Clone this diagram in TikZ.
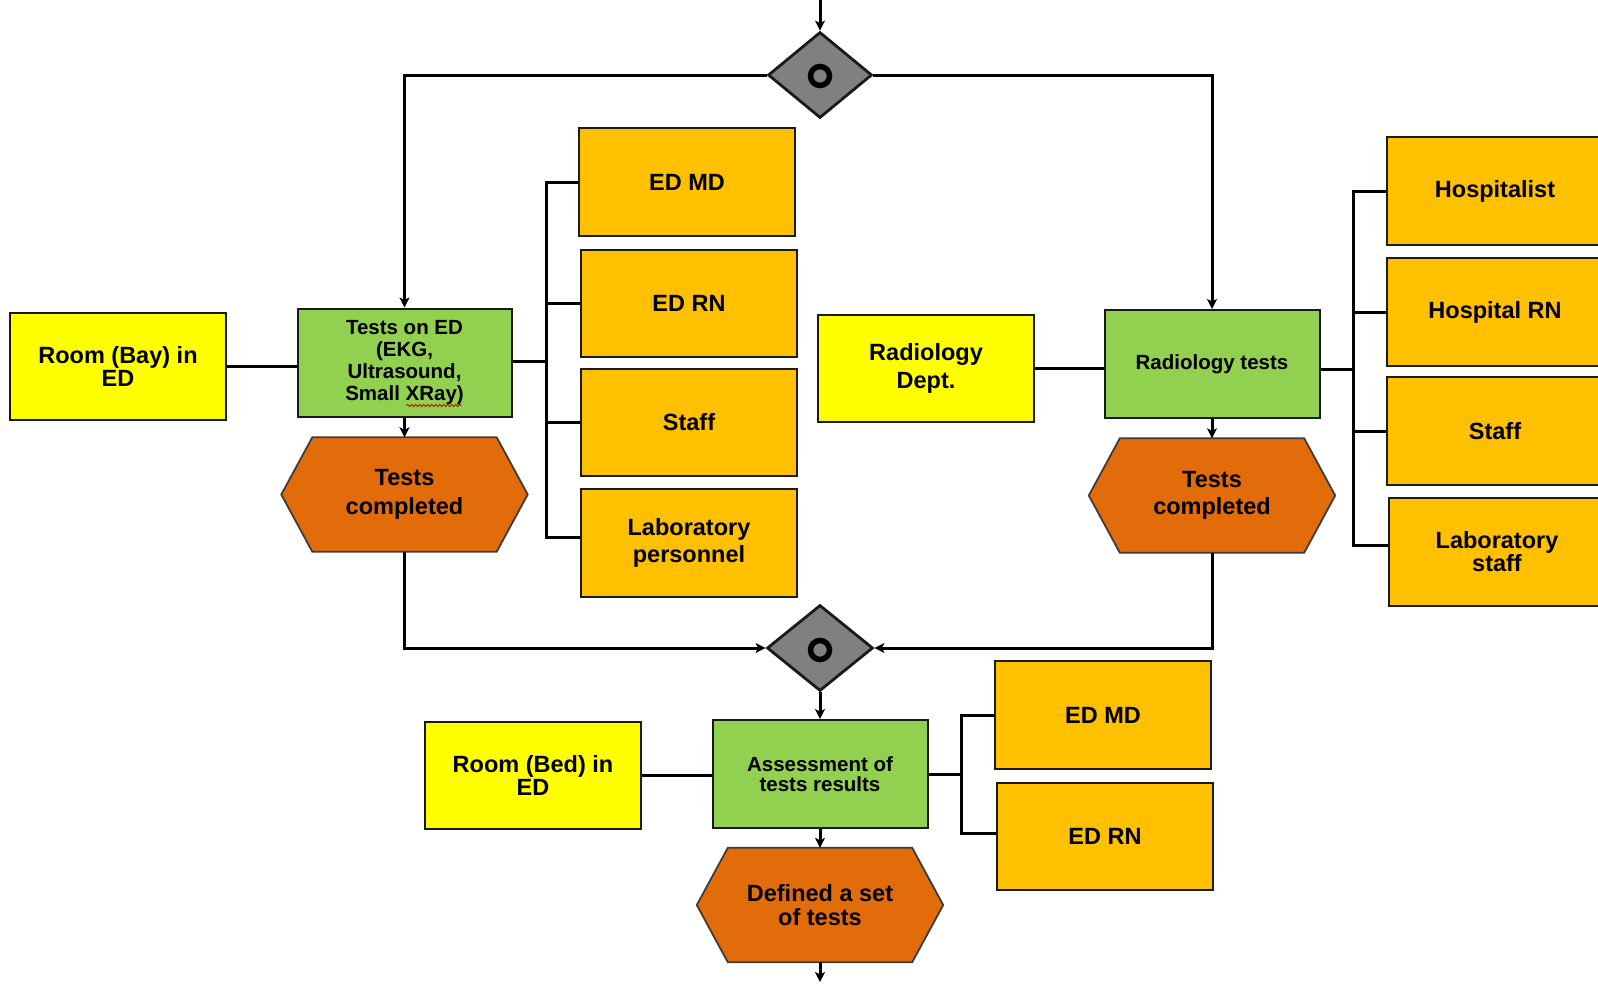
\documentclass[tikz,border=0pt]{standalone}
\usepackage{fontspec}
\setmainfont{Liberation Sans}
\usetikzlibrary{arrows.meta,shapes.geometric,calc,backgrounds,decorations.pathmorphing}

\definecolor{placeyellow}{HTML}{FFFF00}
\definecolor{roleorange}{HTML}{FFC000}
\definecolor{taskgreen}{HTML}{92D050}
\definecolor{eventorange}{HTML}{E36C0A}
\definecolor{gategray}{HTML}{808080}
\definecolor{edgedark}{HTML}{1A1A1A}

\newcommand\hexoutline[2]{%
  \begin{scope}[on background layer]
    \draw[hexline] (#1.west) -- ($(#1.north west)+(#2,0)$) -- ($(#1.north east)+(-#2,0)$)
      -- (#1.east) -- ($(#1.south east)+(-#2,0)$) -- ($(#1.south west)+(#2,0)$) -- cycle;
  \end{scope}}

\tikzset{
  boxbase/.style={rectangle, draw=edgedark, line width=2pt, inner sep=0pt, align=center,
    minimum width=216, minimum height=107},
  bigtext/.style={font=\bfseries\fontsize{23.5}{#1}\selectfont},
  bigtext/.default=24,
  smalltext/.style={font=\bfseries\fontsize{20.5}{#1}\selectfont},
  smalltext/.default=22,
  placebox/.style={boxbase, fill=placeyellow},
  rolebox/.style={boxbase, fill=roleorange},
  taskbox/.style={boxbase, fill=taskgreen, minimum width=214, minimum height=108},
  hexbox/.style={rectangle, inner sep=0pt, align=center, minimum width=246, minimum height=114},
  hexline/.style={draw=edgedark!85, line width=1.8pt, fill=eventorange, line join=miter},
  gate/.style={diamond, draw=edgedark, line width=2.8pt, fill=gategray, inner sep=0pt,
    minimum width=104, minimum height=86},
  gatering/.style={circle, draw=black, line width=5.5pt, minimum size=19, inner sep=0pt},
  link/.style={draw=black, line width=3pt},
  flow/.style={link, -{Stealth[length=10pt,width=10pt,inset=2.5pt]}},
}

\begin{document}
\begin{tikzpicture}[x=1pt, y=-1pt]
\useasboundingbox (0,0) rectangle (1598,985);

% gateways
\node[gate] (d1) at (820,75) {};
\node[gatering] (d1r) at (820,76) {};
\node[gate, minimum width=106] (d2) at (820,648) {};
\node[gatering] (d2r) at (820,650) {};

% emergency department branch
\node[placebox, bigtext=23.5] (room1) at (118,366.5) {Room (Bay) in\\ED};
\node[taskbox, smalltext] (t1) at (404.5,362.5) {Tests on ED\\(EKG,\\Ultrasound,\\Small XRay)};
\node[hexbox, bigtext=28.5] (h1) at (404.5,494.5) {Tests\\completed};
\hexoutline{h1}{31}
\node[rolebox, bigtext, minimum height=108] (edmd1) at (687,182) {ED MD};
\node[rolebox, bigtext] (edrn1) at (689,303.5) {ED RN};
\node[rolebox, bigtext] (staff1) at (689,422.5) {Staff};
\node[rolebox, bigtext=27, minimum height=108] (lab1) at (689,543) {Laboratory\\personnel};

% radiology branch
\node[placebox, bigtext=27.5] (rdept) at (926,368.5) {Radiology\\Dept.};
\node[taskbox, smalltext, minimum width=215] (r1) at (1212,364) {Radiology tests};
\node[hexbox, bigtext=27] (h2) at (1212,495.5) {Tests\\completed};
\hexoutline{h2}{31}
\node[rolebox, bigtext, minimum height=108] (hosp) at (1495,191) {Hospitalist};
\node[rolebox, bigtext, minimum height=108] (hrn) at (1495,312) {Hospital RN};
\node[rolebox, bigtext, minimum height=108] (staff2) at (1495,431) {Staff};
\node[rolebox, bigtext=23, minimum height=108] (lab2) at (1497,552) {Laboratory\\staff};

% assessment
\node[placebox, bigtext=23] (room2) at (533,775.5) {Room (Bed) in\\ED};
\node[taskbox, smalltext=20.5, minimum width=215] (a1) at (820,774) {Assessment of\\tests results};
\node[hexbox, bigtext=24.5] (h3) at (820,905) {Defined a set\\of tests};
\hexoutline{h3}{31}
\node[rolebox, bigtext, minimum height=108] (edmd2) at (1103,715) {ED MD};
\node[rolebox, bigtext] (edrn2) at (1105,836.5) {ED RN};

% spell-check mark under the x-ray entry
\draw[red!85!black, line width=0.9pt, decorate, decoration={snake, amplitude=1.1pt, segment length=4pt}]
  ($(t1.center)+(2,43)$) -- ($(t1.center)+(57,43)$);

% free ends of the flow
\coordinate (flowin) at (820,0);
\coordinate (flowout) at (820,982);
\coordinate (bl) at (546,361);
\coordinate (br) at (1353,369);
\coordinate (bb) at (961,774);

% control flow
\draw[flow] (flowin) -- (d1.north);
\draw[flow] (d1.west) -| (t1.north);
\draw[flow] (d1.east) -| (r1.north);
\draw[flow] (t1.south) -- (h1.north);
\draw[flow] (r1.south) -- (h2.north);
\draw[flow] (h1.south) |- (d2.west);
\draw[flow] (h2.south) |- (d2.east);
\draw[flow] (d2.south) -- (a1.north);
\draw[flow] (a1.south) -- (h3.north);
\draw[flow] (h3.south) -- (flowout);

% resources and roles
\draw[link] (room1.east) -- (room1.east -| t1.west);
\draw[link] (rdept.east) -- (rdept.east -| r1.west);
\draw[link] (room2.east) -- (room2.east -| a1.west);

\draw[link] (t1.east |- bl) -- (bl);
\draw[link] (edmd1.west) -| (bl) |- ($(lab1.west)+(0,-6)$);
\draw[link] (edrn1.west) -- (edrn1.west -| bl);
\draw[link] (staff1.west) -- (staff1.west -| bl);

\draw[link] (r1.east |- br) -- (br);
\draw[link] (hosp.west) -| (br) |- ($(lab2.west)+(0,-7)$);
\draw[link] (hrn.west) -- (hrn.west -| br);
\draw[link] (staff2.west) -- (staff2.west -| br);

\draw[link] (a1.east) -- (bb);
\draw[link] (edmd2.west) -| (bb) |- ($(edrn2.west)+(0,-3)$);
\end{tikzpicture}
\end{document}
